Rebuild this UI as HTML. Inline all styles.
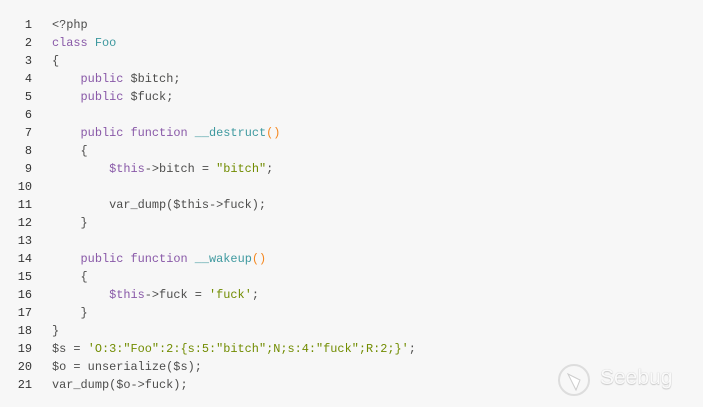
<!DOCTYPE html>
<html><head><meta charset="utf-8"><style>
html,body{margin:0;padding:0;background:#f7f7f7;width:703px;height:407px;overflow:hidden;}
.c{position:absolute;left:0;top:16px;font-family:"Liberation Mono",monospace;font-size:11.9px;line-height:18px;color:#4d4d4c;white-space:pre;}
.n{display:inline-block;width:32px;text-align:right;color:#333;margin-right:20px;}
.k{color:#8959a8}.t{color:#3e999f}.s{color:#718c00}.p{color:#f5871f}
.logo{position:absolute;font-family:"Liberation Sans",sans-serif;font-size:21px;color:#fafafa;text-shadow:0 0 1px #bbb,0 1px 1px #ccc;}
</style></head><body>
<div class="c"><span class="n">1</span>&lt;?php
<span class="n">2</span><span class="k">class</span> <span class="t">Foo</span>
<span class="n">3</span>{
<span class="n">4</span>    <span class="k">public</span> $bitch;
<span class="n">5</span>    <span class="k">public</span> $fuck;
<span class="n">6</span>
<span class="n">7</span>    <span class="k">public</span> <span class="k">function</span> <span class="t">__destruct</span><span class="p">()</span>
<span class="n">8</span>    {
<span class="n">9</span>        <span class="k">$this</span>-&gt;bitch = <span class="s">"bitch"</span>;
<span class="n">10</span>
<span class="n">11</span>        var_dump($this-&gt;fuck);
<span class="n">12</span>    }
<span class="n">13</span>
<span class="n">14</span>    <span class="k">public</span> <span class="k">function</span> <span class="t">__wakeup</span><span class="p">()</span>
<span class="n">15</span>    {
<span class="n">16</span>        <span class="k">$this</span>-&gt;fuck = <span class="s">'fuck'</span>;
<span class="n">17</span>    }
<span class="n">18</span>}
<span class="n">19</span>$s = <span class="s">'O:3:"Foo":2:{s:5:"bitch";N;s:4:"fuck";R:2;}'</span>;
<span class="n">20</span>$o = unserialize($s);
<span class="n">21</span>var_dump($o-&gt;fuck);</div>
<svg style="position:absolute;left:556px;top:360px" width="40" height="40"><circle cx="18" cy="20" r="15" fill="none" stroke="#ddd" stroke-width="2"/><path d="M12 14 L20 30 L24 20 Z" fill="#fff" stroke="#ccc"/></svg>
<div class="logo" style="left:600px;top:366px">Seebug</div>
</body></html>
